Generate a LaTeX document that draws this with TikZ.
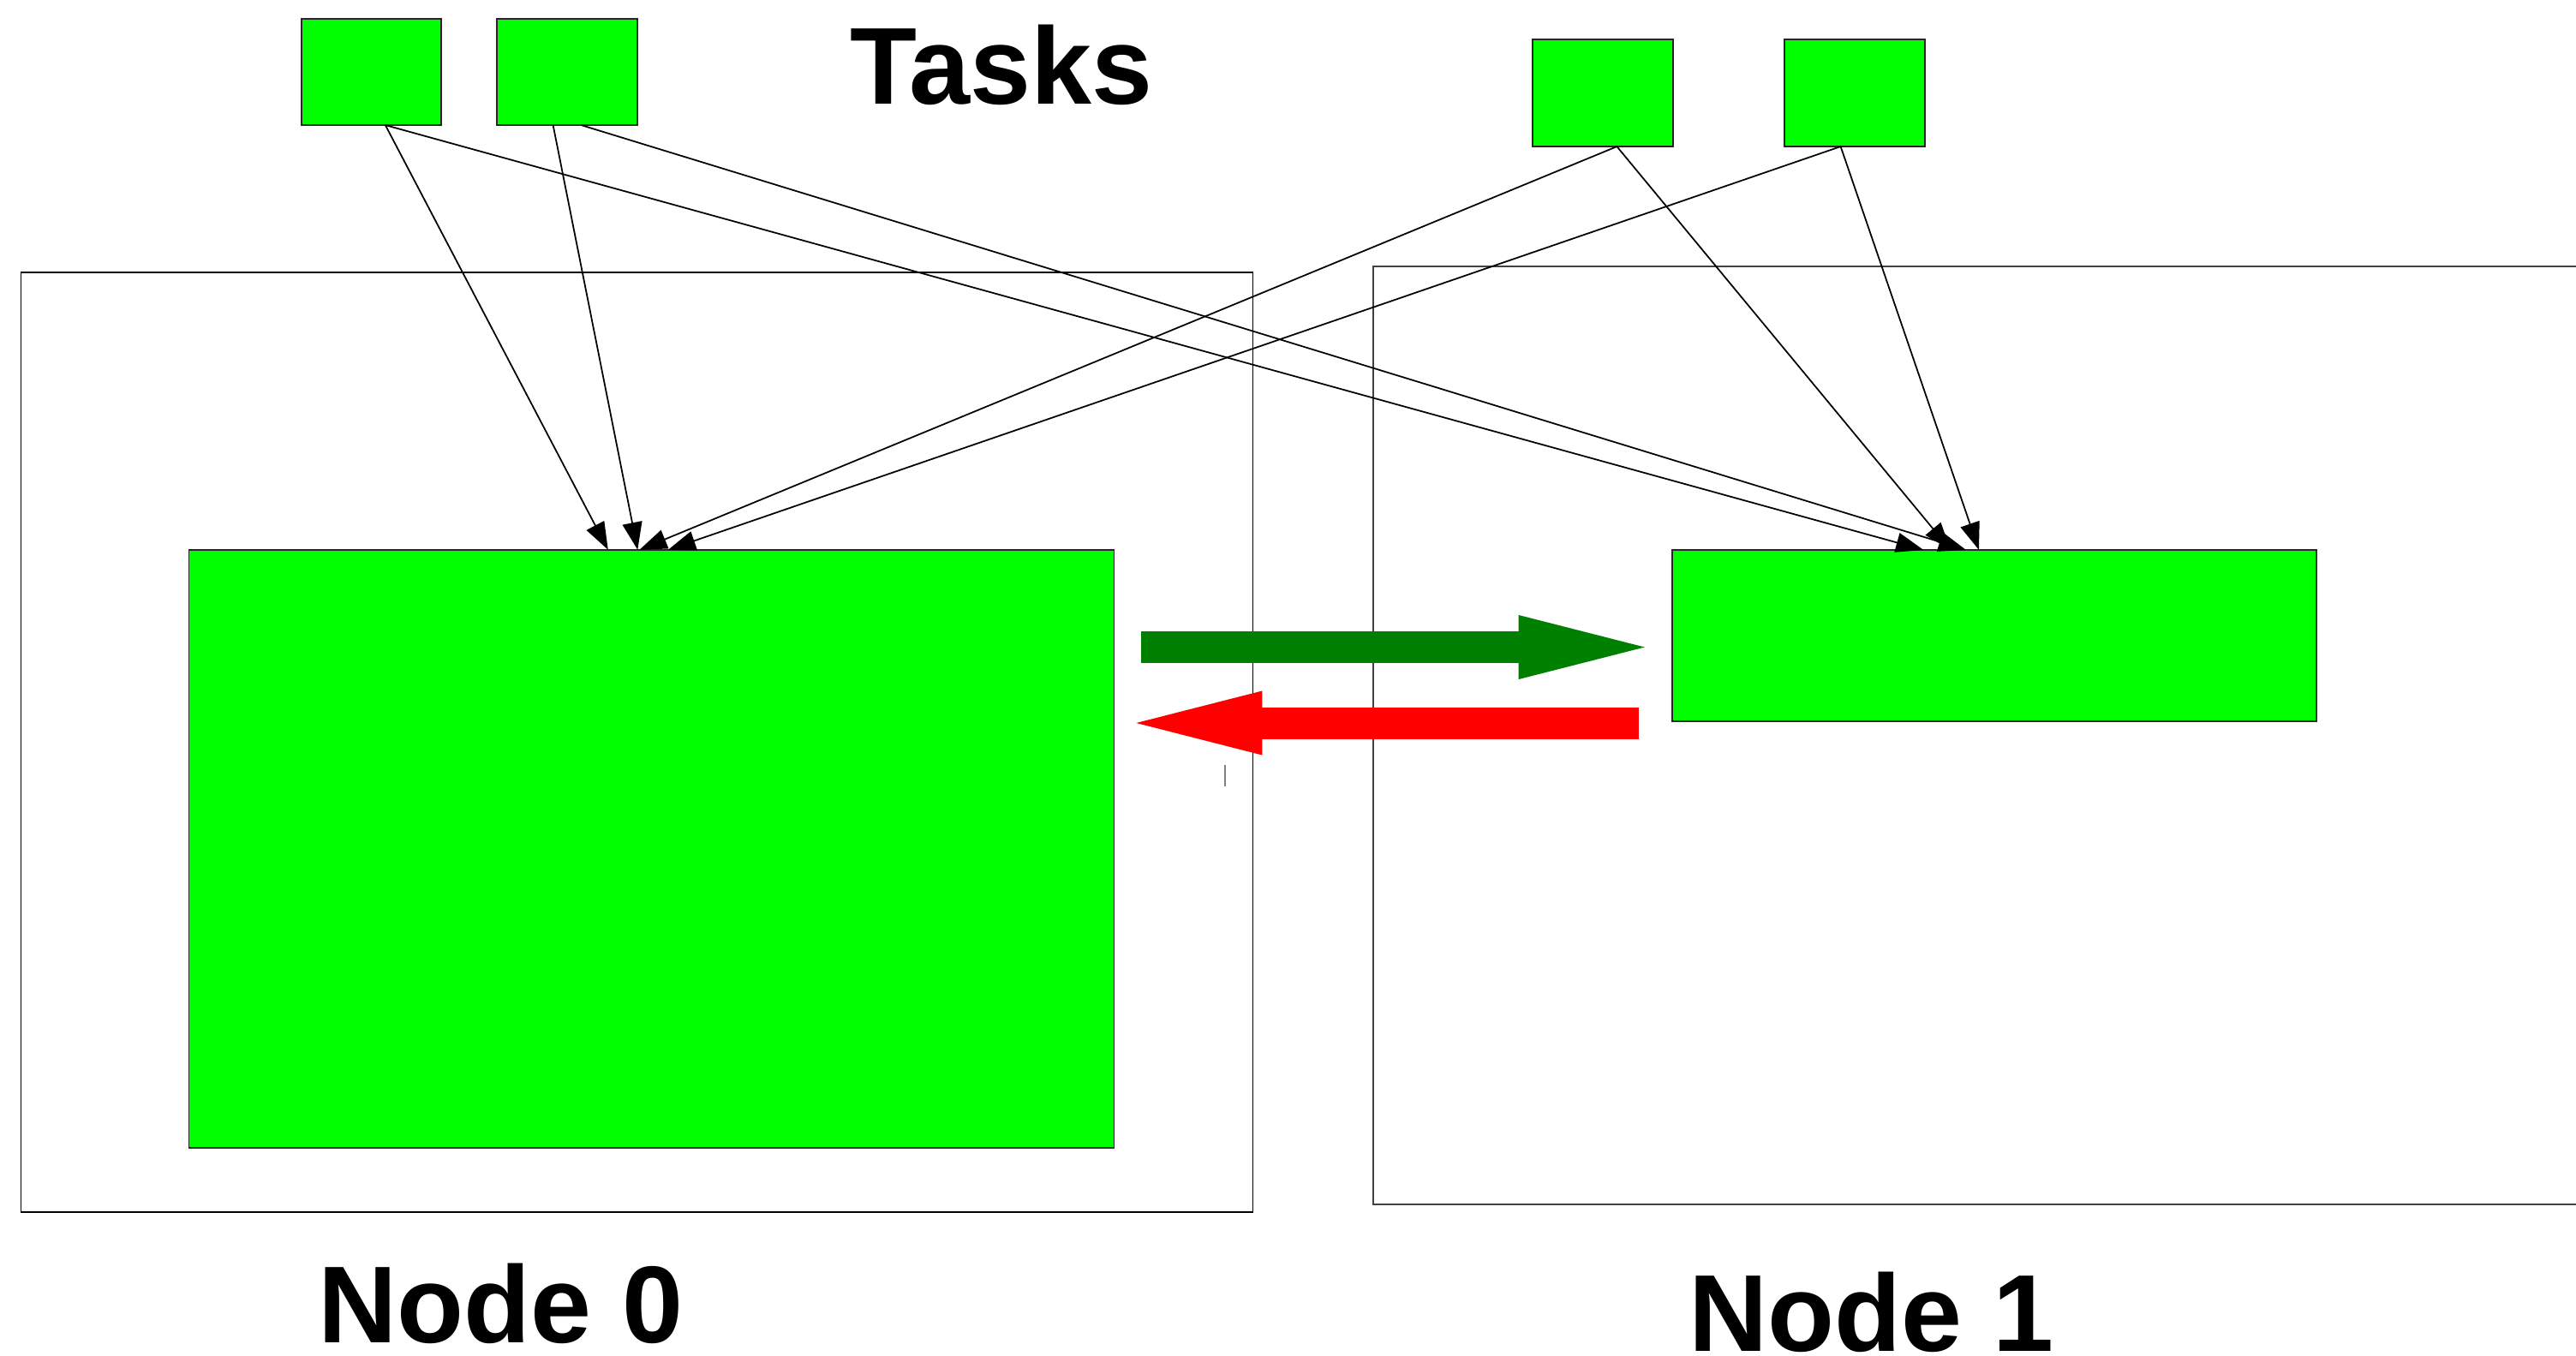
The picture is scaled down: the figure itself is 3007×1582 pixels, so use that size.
\documentclass[tikz,border=0pt]{standalone}
\usepackage{fontspec}
\setmainfont{Liberation Sans}
\usetikzlibrary{arrows.meta,calc}
\definecolor{taskgreen}{RGB}{0,255,0}
\definecolor{sendgreen}{RGB}{0,128,0}
\definecolor{backred}{RGB}{255,0,0}
\begin{document}
\begin{tikzpicture}[x=0.01cm,y=-0.01cm,
  taskbox/.style={draw=black!85, fill=taskgreen, line width=0.45pt,
    inner sep=0pt, outer sep=0pt},
  nodebox/.style={draw=black, line width=0.5pt, inner sep=0pt, outer sep=0pt},
  flow/.style={line width=0.5pt, -{Triangle[length=0.32cm,width=0.23cm]}},
  bigflow/.style={line width=0.37cm, draw=#1,
    -{Triangle[length=1.47cm,width=0.75cm,line width=0pt,fill=#1]}},
  titletext/.style={font=\fontsize{36.3}{40}\selectfont\bfseries,
    inner sep=0pt, text depth=0pt}]

  \useasboundingbox (0,0) rectangle (3007,1582);

  % machine frames
  \node[nodebox, minimum width=14.37cm, minimum height=10.97cm] (frame0) at (743.5,866.5) {};
  \draw[black!75, line width=0.5pt] (3007,311) -- (1603,311) -- (1603,1406) -- (3007,1406);

  % task boxes
  \node[taskbox, minimum width=1.63cm, minimum height=1.24cm] (t1) at (433.5,84) {};
  \node[taskbox, minimum width=1.64cm, minimum height=1.24cm] (t2) at (662,84) {};
  \node[taskbox, minimum width=1.64cm, minimum height=1.25cm] (t3) at (1871,108.5) {};
  \node[taskbox, minimum width=1.64cm, minimum height=1.25cm] (t4) at (2165,108.5) {};

  % worker boxes
  \node[taskbox, minimum width=10.79cm, minimum height=6.98cm] (n0) at (760.5,991) {};
  \node[taskbox, minimum width=7.52cm, minimum height=2.00cm] (n1) at (2328,742) {};

  % labels
  \node[titletext, anchor=base west] (ttasks) at (992,122) {Tasks};
  \node[titletext, anchor=base west] (tnode0) at (371,1567) {Node 0};
  \node[titletext, anchor=base west] (tnode1) at (1971,1577) {Node 1};

  % task assignments to Node 0
  \draw[flow] ($(t1.south west)!0.60!(t1.south east)$) -- ($(n0.north west)!0.453!(n0.north east)$);
  \draw[flow] ($(t2.south west)!0.40!(t2.south east)$) -- ($(n0.north west)!0.485!(n0.north east)$);
  \draw[flow] ($(t3.south west)!0.60!(t3.south east)$) -- ($(n0.north west)!0.487!(n0.north east)$);
  \draw[flow] ($(t4.south west)!0.40!(t4.south east)$) -- ($(n0.north west)!0.518!(n0.north east)$);

  % task assignments to Node 1
  \draw[flow] ($(t1.south west)!0.60!(t1.south east)$) -- ($(n1.north west)!0.390!(n1.north east)$);
  \draw[flow] ($(t2.south west)!0.60!(t2.south east)$) -- ($(n1.north west)!0.456!(n1.north east)$);
  \draw[flow] ($(t3.south west)!0.60!(t3.south east)$) -- ($(n1.north west)!0.432!(n1.north east)$);
  \draw[flow] ($(t4.south west)!0.40!(t4.south east)$) -- ($(n1.north west)!0.476!(n1.north east)$);

  % exchange between the nodes
  \draw[bigflow=sendgreen] ($(n0.east)+(32,-235.5)$) -- ($(n1.west)+(-32,13.5)$);
  \draw[bigflow=backred] ($(n1.west)+(-39,102)$) -- ($(n0.east)+(26,-147)$);

  % small tick below the return arrow
  \draw[black!50, line width=0.5pt] (1430,893) -- (1430,918);
\end{tikzpicture}
\end{document}
